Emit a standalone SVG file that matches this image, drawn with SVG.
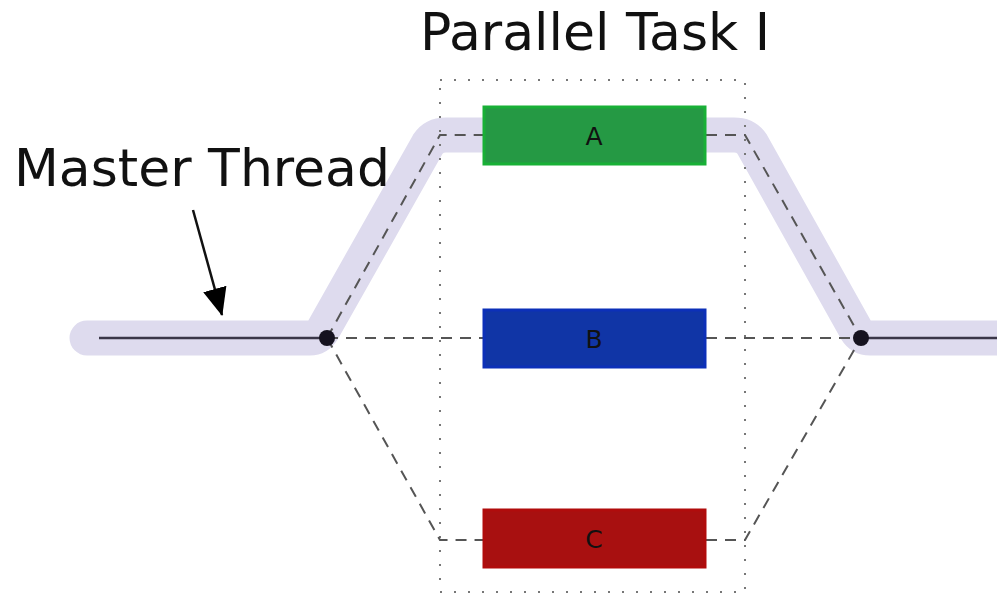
<svg xmlns="http://www.w3.org/2000/svg" width="997" height="600" viewBox="0 0 997 600">
<style>
.lbl{font-family:"DejaVu Sans",sans-serif;fill:#111;font-size:52px}
.dash{fill:none;stroke:#555;stroke-width:2;stroke-dasharray:11,8}
.task{stroke-width:3}
.tl{font-family:"DejaVu Sans",sans-serif;font-size:25px;fill:#111;text-anchor:middle}
</style>
<defs>
<marker id="ah" viewBox="0 0 28 24" refX="27" refY="12" markerWidth="28" markerHeight="24" markerUnits="userSpaceOnUse" orient="auto">
<path d="M0,0 L28,12 L0,24 z" fill="#000"/>
</marker>
</defs>
<rect width="997" height="600" fill="#fff"/>
<g id="master-thread">
<path d="M87,338 H310 Q318,338 323,330 L428,144 Q434,135 446,135 H734 Q746,135 752,144 L856,330 Q861,338 870,338 H1010" fill="none" stroke="#dedbee" stroke-width="35" stroke-linecap="round" stroke-linejoin="round"/>
<line x1="99" y1="338" x2="327" y2="338" stroke="#3a3648" stroke-width="2.5"/>
<line x1="861" y1="338" x2="997" y2="338" stroke="#3a3648" stroke-width="2.5"/>
</g>
<g id="region">
<rect x="440" y="80" width="305" height="512" fill="none" stroke="#777" stroke-width="2" stroke-dasharray="2,12"/>
</g>
<g id="connectors">
<path class="dash" d="M327,338 L440,135 H483"/>
<path class="dash" d="M706,135 H745 L861,338"/>
<path class="dash" d="M327,338 H483"/>
<path class="dash" d="M706,338 H861"/>
<path class="dash" d="M327,338 L440,540 H483"/>
<path class="dash" d="M706,540 H745 L861,338"/>
<line x1="193" y1="210" x2="222" y2="315" stroke="#111" stroke-width="2.5" marker-end="url(#ah)"/>
</g>
<g id="fork"><circle cx="327" cy="338" r="8" fill="#15121f"/></g>
<g id="join"><circle cx="861" cy="338" r="8" fill="#15121f"/></g>
<g id="task-a">
<rect class="task" x="484" y="107" width="221" height="57" fill="#259944" stroke="#18b036"/>
<text class="tl" x="594" y="145">A</text>
</g>
<g id="task-b">
<rect class="task" x="484" y="310" width="221" height="57" fill="#1035a6" stroke="#0c30b8"/>
<text class="tl" x="594" y="348">B</text>
</g>
<g id="task-c">
<rect class="task" x="484" y="510" width="221" height="57" fill="#a81010" stroke="#b00c0c"/>
<text class="tl" x="594" y="548">C</text>
</g>
<text class="lbl" x="595" y="50" text-anchor="middle">Parallel Task I</text>
<text class="lbl" x="14" y="186">Master Thread</text>
</svg>
